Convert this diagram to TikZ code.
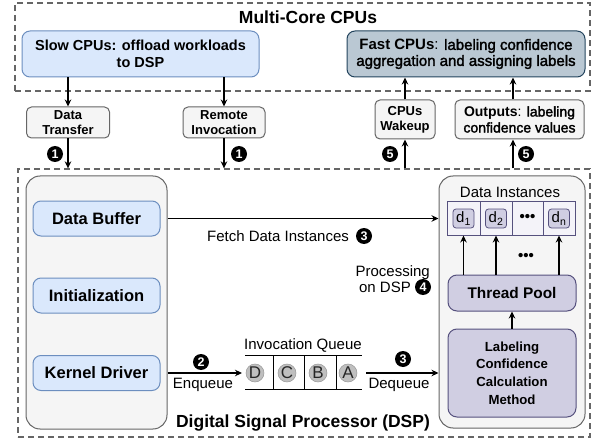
\documentclass[tikz,border=0pt]{standalone}
\usepackage{fontspec}
\setmainfont{Liberation Sans}
\newfontfamily\semibf[RawFeature={embolden=2}]{Liberation Sans}
\usetikzlibrary{arrows.meta}

\definecolor{blueF}{HTML}{DAE8FC}
\definecolor{blueD}{HTML}{6C8EBF}
\definecolor{slateF}{HTML}{BAC8D3}
\definecolor{slateD}{HTML}{23445D}
\definecolor{greyF}{HTML}{F5F5F5}
\definecolor{greyD}{HTML}{666666}
\definecolor{lilacF}{HTML}{D0CEE2}
\definecolor{lilacD}{HTML}{56517E}
\definecolor{cellF}{HTML}{F4F3F9}
\definecolor{tokenF}{HTML}{BFBFBF}

\newcommand\fsz[2]{\fontsize{#1pt}{#2pt}\selectfont}

\tikzset{
  group/.style={draw=greyD, dash pattern=on 6pt off 4pt, line width=1.3pt, inner sep=0pt},
  grouptitle/.style={font=\fsz{17.5}{20}\bfseries, inner sep=0pt},
  panel/.style={draw=greyD, fill=greyF, rounded corners=14pt, line width=1pt, inner sep=0pt},
  bluebox/.style={draw=blueD, fill=blueF, rounded corners=8pt, line width=1pt,
    font=\fsz{16.5}{19}\bfseries, align=center, inner sep=2pt},
  slatebox/.style={draw=slateD, fill=slateF, rounded corners=8pt, line width=1pt,
    font=\fsz{15}{16}, align=center, inner sep=2pt},
  tag/.style={draw=greyD, fill=greyF, rounded corners=5pt, line width=1pt,
    font=\fsz{13}{15}\bfseries, align=center, inner sep=1pt},
  lilacbox/.style={draw=lilacD, fill=lilacF, rounded corners=9pt, line width=1pt,
    font=\bfseries, align=center, inner sep=2pt},
  cell/.style={draw=lilacD, fill=cellF, line width=1pt, inner sep=0pt,
    minimum height=34pt},
  item/.style={draw=lilacD, fill=lilacF, rounded corners=3pt, line width=0.8pt,
    minimum width=21pt, minimum height=19pt, inner sep=0pt, font=\fsz{15}{15}},
  token/.style={circle, fill=tokenF, draw=tokenF!80!black, line width=0.5pt,
    minimum size=18pt, inner sep=0pt, font=\fsz{17}{17}, text=black!85},
  lbl/.style={font=\fsz{15}{16}, inner sep=0pt, align=center},
  dots/.style={font=\fsz{15}{15}\bfseries, inner sep=0pt},
  badge/.style={circle, fill=black, text=white, inner sep=0pt, minimum size=16pt,
    font=\fsz{12.5}{12.5}\bfseries},
  arr/.style={-{Stealth[length=7pt,width=6.5pt]}, line width=1.2pt}
}

\begin{document}
\begin{tikzpicture}[x=1pt,y=-1pt]
\useasboundingbox (0,0) rectangle (600,441);

% ---------------- multi-core CPU group ----------------
\node[group, minimum width=575pt, minimum height=88pt] (cpus) at (302.5,47) {};
\node[grouptitle] (cputitle) at (308,17) {Multi-Core CPUs};

\node[bluebox, font=\fsz{14.5}{17}\bfseries, minimum width=237pt, minimum height=46pt]
  (slow) at (140.5,54) {Slow CPUs: offload workloads\\to DSP};
\node[slatebox, minimum width=238pt, minimum height=46pt] (fast) at (466,54)
  {\textbf{Fast CPUs}: {\semibf labeling confidence}\\{\semibf aggregation and assigning labels}};

% ---------------- transfer tags ----------------
\node[tag, minimum width=83pt, minimum height=31pt] (dtrans) at (68,122.5) {Data\\Transfer};
\node[tag, minimum width=82pt, minimum height=31pt] (rinv) at (224,122.5) {Remote\\Invocation};
\node[tag, minimum width=60pt, minimum height=39pt] (wake) at (405,119.5) {CPUs\\Wakeup};
\node[tag, font=\fsz{14}{16}, minimum width=129pt, minimum height=39pt] (outp) at (519.5,119.5)
  {\textbf{Outputs}: {\semibf labeling}\\{\semibf confidence values}};

% ---------------- DSP group ----------------
\node[group, minimum width=572pt, minimum height=268pt] (dsp) at (304,303) {};
\node[grouptitle] (dsptitle) at (303,423) {Digital Signal Processor (DSP)};

% left panel
\node[panel, minimum width=141pt, minimum height=253pt] (panelL) at (96.5,302.5) {};
\node[bluebox, minimum width=127pt, minimum height=35pt] (dbuf) at (96.5,218.5) {Data Buffer};
\node[bluebox, minimum width=127pt, minimum height=35pt] (init) at (96.5,295.5) {Initialization};
\node[bluebox, minimum width=127pt, minimum height=35pt] (kdrv) at (96.5,373) {Kernel Driver};

% right panel
\node[panel, minimum width=146pt, minimum height=252pt] (panelR) at (512,302) {};
\node[lbl] (dinst) at (510,192) {Data Instances};
\node[cell, minimum width=33pt] (c1) at (463.5,218) {};
\node[cell, minimum width=32pt] (c2) at (496,218) {};
\node[cell, minimum width=31pt] (c3) at (527.5,218) {};
\node[cell, minimum width=32pt] (c4) at (559,218) {};
\node[item] (d1) at (463.5,218.5) {d\textsubscript{1}};
\node[item] (d2) at (496,218.5) {d\textsubscript{2}};
\node[item] (dn) at (559,218.5) {d\textsubscript{n}};
\node[dots] (cdots) at (527.5,218) {•••};

\node[lilacbox, font=\fsz{15.4}{17}\bfseries, minimum width=128pt, minimum height=36pt]
  (tpool) at (512,293) {Thread Pool};
\node[lilacbox, font=\fsz{13.2}{17.6}\bfseries, minimum width=128pt, minimum height=88pt]
  (lccm) at (512,373) {Labeling\\Confidence\\Calculation\\Method};
\node[dots] (tdots) at (526,257) {•••};

% invocation queue
\node[lbl] (qlabel) at (303,345) {Invocation Queue};
\draw[line width=1pt] (245,355) -- (362,355) (245,389) -- (362,389)
  (273,355) -- (273,389) (304,355) -- (304,389) (336,355) -- (336,389);
\node[token] (qD) at (255,373) {D};
\node[token] (qC) at (287,373) {C};
\node[token] (qB) at (318,373) {B};
\node[token] (qA) at (348,373) {A};
\coordinate (qin) at (242,373);
\coordinate (qout) at (366,373);

% ---------------- connectors ----------------
\draw[arr] (slow.south -| dtrans) -- (dtrans.north);
\draw[arr] (dtrans.south) -- (dtrans.south |- dsp.north);
\draw[arr] (slow.south -| rinv) -- (rinv.north);
\draw[arr] (rinv.south) -- (rinv.south |- dsp.north);
\draw[arr] (wake.south |- dsp.north) -- (wake.south);
\draw[arr] (wake.north) -- (wake.north |- fast.south);
\coordinate (outx) at (513,0);
\draw[arr] (outx |- dsp.north) -- (outx |- outp.south);
\draw[arr] (outx |- outp.north) -- (outx |- fast.south);

\draw[arr] (dbuf.east -| panelL.east) -- (dbuf.east -| panelR.west);
\draw[arr] (kdrv.east -| panelL.east) -- (qin);
\draw[arr] (qout) -- (qout -| panelR.west);

\draw[arr] (tpool.north -| c1) -- (c1.south);
\draw[arr] (tpool.north -| c2) -- (c2.south);
\draw[arr] (tpool.north -| c4) -- (c4.south);
\draw[arr] (lccm.north) -- (tpool.south);

% ---------------- labels and step badges ----------------
\node[lbl] (fetch) at (278,236) {Fetch Data Instances};
\node[lbl, anchor=east, align=right] (proc) at (430,279) {Processing\\on DSP\rule{19pt}{0pt}};
\node[lbl] (enq) at (203,385) {Enqueue};
\node[lbl] (deq) at (399,385) {Dequeue};

\node[badge] (b1a) at (55,154) {1};
\node[badge] (b1b) at (239,154) {1};
\node[badge] (b5a) at (390,154) {5};
\node[badge] (b5b) at (526,154) {5};
\node[badge] (b3a) at (364,236) {3};
\node[badge] (b4) at (423,287) {4};
\node[badge] (b2) at (201,362) {2};
\node[badge] (b3b) at (403,359) {3};
\end{tikzpicture}
\end{document}
